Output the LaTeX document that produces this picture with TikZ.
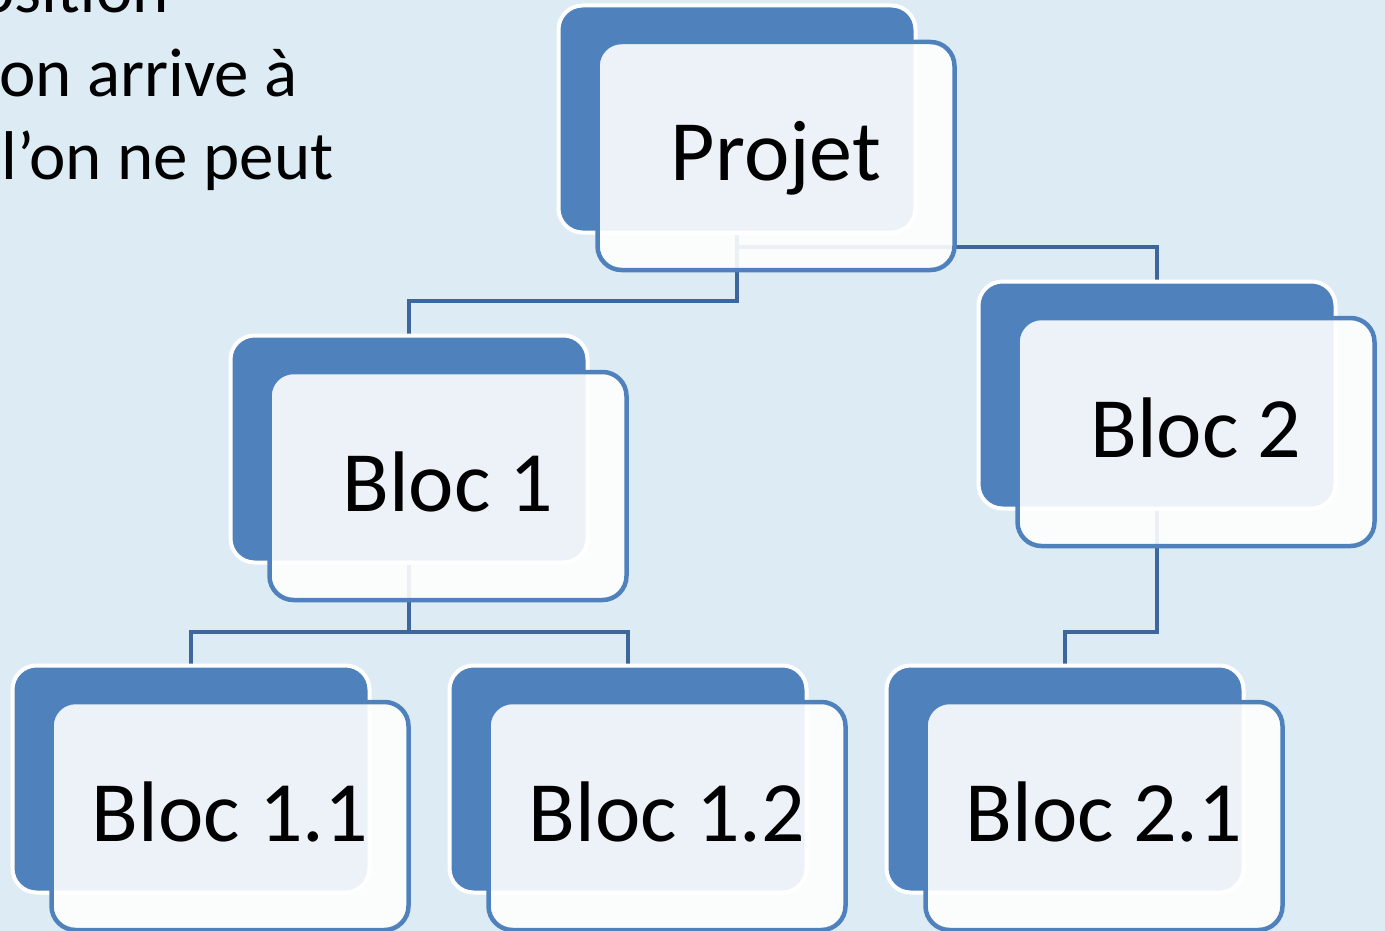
\documentclass[tikz,border=0pt]{standalone}
\usepackage{fontspec}
\setmainfont{Carlito}
\usetikzlibrary{calc}
\definecolor{bgc}{HTML}{DDECF4}
\definecolor{backblue}{HTML}{4F81BD}
\definecolor{linkc}{HTML}{3D679C}
\pgfdeclarelayer{backdrop}
\pgfdeclarelayer{bg}
\pgfsetlayers{backdrop,bg,main}
\tikzset{
  backbox/.style={draw=white, line width=4pt, fill=backblue, rounded corners=24pt,
    minimum width=357pt, minimum height=227pt, inner sep=0pt},
  frontbox/.style={draw=backblue, line width=4.5pt, fill=white, fill opacity=0.9,
    draw opacity=1, rounded corners=24pt, minimum width=357pt, minimum height=228pt, inner sep=0pt},
  boxtext/.style={anchor=base, font=\fontsize{86}{100}\selectfont, text=black, inner sep=0pt},
  sidetext/.style={anchor=base east, font=\fontsize{69}{80}\selectfont, text=black, inner sep=0pt},
  link/.style={draw=linkc, line width=4pt},
}
\newcommand\mybloc[4]{%
  \node[backbox] (#1-b) at (#2-39,#3-37) {};
  \node[frontbox] (#1) at (#2,#3) {};
  \node[boxtext] (#1-t) at (#2,#3+25) {#4};
}
\begin{document}
\begin{tikzpicture}[x=1pt,y=-1pt]
\useasboundingbox (0,0) rectangle (1385,931);
\clip (0,0) rectangle (1385,931);
\begin{pgfonlayer}{backdrop}
  \fill[bgc] (0,0) rectangle (1385,931);
\end{pgfonlayer}

\node[sidetext] (s1) at (169,13) {osition};
\node[sidetext] (s2) at (298,97) {’on arrive à};
\node[sidetext] (s3) at (334,180) {l’on ne peut};

\mybloc{P}{776}{156}{Projet}
\mybloc{B1}{448}{486}{Bloc 1}
\mybloc{B2}{1196}{432}{Bloc 2}
\mybloc{B11}{230}{816}{Bloc 1.1}
\mybloc{B12}{667}{816}{Bloc 1.2}
\mybloc{B21}{1104}{816}{Bloc 2.1}

\begin{pgfonlayer}{bg}
  \coordinate (pj) at (P-b.south |- 0,301);
  \coordinate (pk) at (P-b.south |- 0,247);
  \coordinate (b1j) at (B1-b.south |- 0,632);
  \coordinate (b2j) at (B2-b.south |- 0,632);
  \draw[link] (P-b.south) -- (pj) -| (B1-b.north);
  \draw[link] (pk) -| (B2-b.north);
  \draw[link] (B1-b.south) -- (b1j) -| (B11-b.north);
  \draw[link] (b1j) -| (B12-b.north);
  \draw[link] (B2-b.south) -- (b2j) -| (B21-b.north);
\end{pgfonlayer}
\end{tikzpicture}
\end{document}
